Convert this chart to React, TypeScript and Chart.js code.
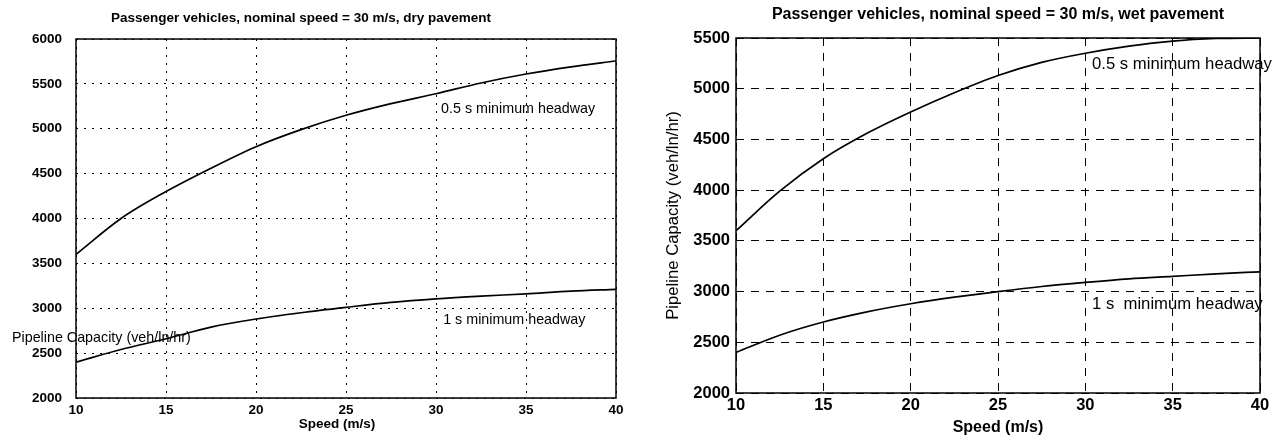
import React, { useEffect, useRef } from "react";
import { Chart, registerables } from "chart.js";

Chart.register(...registerables);

// ---------- data ----------
const speeds = [10, 12.5, 15, 17.5, 20, 22.5, 25, 27.5, 30, 32.5, 35, 37.5, 40];

const dryHalfSecond = [3600, 4000, 4300, 4560, 4800, 4990, 5150, 5280, 5390, 5510, 5610, 5690, 5755];
const dryOneSecond = [2400, 2540, 2660, 2790, 2880, 2950, 3010, 3065, 3105, 3135, 3160, 3190, 3210];

const wetHalfSecond = [3600, 3990, 4310, 4560, 4770, 4960, 5130, 5260, 5350, 5420, 5470, 5495, 5500];
const wetOneSecond = [2400, 2570, 2700, 2800, 2880, 2945, 3000, 3050, 3090, 3125, 3150, 3175, 3195];

const speedTicks = [10, 15, 20, 25, 30, 35, 40];
const dryCapacityTicks = [2000, 2500, 3000, 3500, 4000, 4500, 5000, 5500, 6000];
const wetCapacityTicks = [2000, 2500, 3000, 3500, 4000, 4500, 5000, 5500];

const dryTitle = "Passenger vehicles, nominal speed = 30 m/s, dry pavement";
const wetTitle = "Passenger vehicles, nominal speed = 30 m/s, wet pavement";
const xTitle = "Speed (m/s)";
const yTitle = "Pipeline Capacity (veh/ln/hr)";
const halfSecondLabel = "0.5 s minimum headway";
const oneSecondLabelDry = "1 s minimum headway";
const oneSecondLabelWet = "1 s  minimum headway";

// annotation anchors in data units (speed, capacity)
const dryHalfAnchor = [30.28, 5220];
const dryOneAnchor = [30.4, 2869];
const wetHalfAnchor = [30.38, 5235];
const wetOneAnchor = [30.38, 2878];

const FONT = "'Liberation Sans', Arial, Helvetica, sans-serif";

type PanelProps = {
  left: number;
  width: number;
  height: number;
  half: number[];
  one: number[];
  yMin: number;
  yMax: number;
  yTicks: number[];
  dash: number[];
  pad: { top: number; right: number };
  yAxisWidth: number;
  xAxisHeight: number;
  yTickPad: number;
  xTickPad: number;
  tickFont: number;
  drawText: (chart: any, ctx: CanvasRenderingContext2D) => void;
};

function Panel(p: PanelProps) {
  const ref = useRef<HTMLCanvasElement | null>(null);

  useEffect(() => {
    if (!ref.current) return;
    const textPlugin = {
      id: "panelText",
      afterDraw(chart: any) {
        const ctx: CanvasRenderingContext2D = chart.ctx;
        const a = chart.chartArea;
        ctx.save();
        ctx.strokeStyle = "#000";
        ctx.lineWidth = 1.5;
        ctx.setLineDash([]);
        ctx.strokeRect(a.left, a.top, a.right - a.left, a.bottom - a.top);
        ctx.fillStyle = "#000";
        p.drawText(chart, ctx);
        ctx.restore();
      },
    };
    const chart = new Chart(ref.current, {
      type: "line",
      data: {
        datasets: [
          {
            data: speeds.map((s, i) => ({ x: s, y: p.half[i] })),
            borderColor: "#000",
            borderWidth: 1.7,
            pointRadius: 0,
            cubicInterpolationMode: "monotone",
            fill: false,
          },
          {
            data: speeds.map((s, i) => ({ x: s, y: p.one[i] })),
            borderColor: "#000",
            borderWidth: 1.7,
            pointRadius: 0,
            cubicInterpolationMode: "monotone",
            fill: false,
          },
        ],
      },
      options: {
        responsive: false,
        animation: false,
        devicePixelRatio: 1,
        layout: { padding: { top: p.pad.top, right: p.pad.right, left: 0, bottom: 0 } },
        plugins: { legend: { display: false }, tooltip: { enabled: false }, title: { display: false } },
        scales: {
          x: {
            type: "linear",
            min: 10,
            max: 40,
            afterBuildTicks: (s: any) => {
              s.ticks = speedTicks.map((v) => ({ value: v }));
            },
            afterFit: (s: any) => {
              s.height = p.xAxisHeight;
            },
            ticks: {
              color: "#000",
              padding: p.xTickPad,
              font: { family: FONT, size: p.tickFont, weight: "bold" },
              callback: (v: any) => String(v),
              maxRotation: 0,
              autoSkip: false,
            },
            grid: { color: "#000", lineWidth: 1, drawTicks: false },
            border: { display: false, dash: p.dash },
          },
          y: {
            type: "linear",
            min: p.yMin,
            max: p.yMax,
            afterBuildTicks: (s: any) => {
              s.ticks = p.yTicks.map((v) => ({ value: v }));
            },
            afterFit: (s: any) => {
              s.width = p.yAxisWidth;
            },
            ticks: {
              color: "#000",
              padding: p.yTickPad,
              font: { family: FONT, size: p.tickFont, weight: "bold" },
              callback: (v: any) => String(v),
              autoSkip: false,
            },
            grid: { color: "#000", lineWidth: 1, drawTicks: false },
            border: { display: false, dash: p.dash },
          },
        },
      },
      plugins: [textPlugin],
    } as any);
    return () => chart.destroy();
  }, []);

  return (
    <canvas
      ref={ref}
      width={p.width}
      height={p.height}
      style={{ position: "absolute", left: p.left, top: 0, width: p.width, height: p.height }}
    />
  );
}

function drawDry(chart: any, ctx: CanvasRenderingContext2D) {
  const x = chart.scales.x;
  const y = chart.scales.y;
  ctx.textBaseline = "middle";
  ctx.textAlign = "left";
  ctx.font = `bold 13.5px ${FONT}`;
  ctx.fillText(dryTitle, 111, 18);
  ctx.font = `14.3px ${FONT}`;
  ctx.fillText(halfSecondLabel, x.getPixelForValue(dryHalfAnchor[0]), y.getPixelForValue(dryHalfAnchor[1]));
  ctx.fillText(oneSecondLabelDry, x.getPixelForValue(dryOneAnchor[0]), y.getPixelForValue(dryOneAnchor[1]));
  ctx.fillText(yTitle, 12, y.getPixelForValue(2669));
  ctx.textAlign = "center";
  ctx.font = `bold 13.5px ${FONT}`;
  ctx.fillText(xTitle, (chart.chartArea.left + chart.chartArea.right) / 2 - 9, 424);
}

function drawWet(chart: any, ctx: CanvasRenderingContext2D) {
  const x = chart.scales.x;
  const y = chart.scales.y;
  const a = chart.chartArea;
  ctx.textBaseline = "middle";
  ctx.textAlign = "center";
  ctx.font = `bold 16px ${FONT}`;
  ctx.fillText(wetTitle, 358, 15);
  ctx.font = `bold 16px ${FONT}`;
  ctx.fillText(xTitle, (a.left + a.right) / 2, 428);
  ctx.font = `16.7px ${FONT}`;
  ctx.save();
  ctx.translate(33, (a.top + a.bottom) / 2);
  ctx.rotate(-Math.PI / 2);
  ctx.fillText(yTitle, 0, 0);
  ctx.restore();
  ctx.textAlign = "left";
  ctx.fillText(halfSecondLabel, x.getPixelForValue(wetHalfAnchor[0]), y.getPixelForValue(wetHalfAnchor[1]));
  ctx.fillText(oneSecondLabelWet, x.getPixelForValue(wetOneAnchor[0]), y.getPixelForValue(wetOneAnchor[1]));
}

export default function App() {
  return (
    <div style={{ position: "absolute", left: 0, top: 0, width: 1287, height: 443, background: "#fff", overflow: "hidden" }}>
      <Panel
        left={0}
        width={640}
        height={443}
        half={dryHalfSecond}
        one={dryOneSecond}
        yMin={2000}
        yMax={6000}
        yTicks={dryCapacityTicks}
        dash={[2, 6]}
        pad={{ top: 39, right: 24 }}
        yAxisWidth={76}
        xAxisHeight={45}
        yTickPad={14}
        xTickPad={4}
        tickFont={13.5}
        drawText={drawDry}
      />
      <Panel
        left={640}
        width={647}
        height={443}
        half={wetHalfSecond}
        one={wetOneSecond}
        yMin={2000}
        yMax={5500}
        yTicks={wetCapacityTicks}
        dash={[8, 7]}
        pad={{ top: 38, right: 27 }}
        yAxisWidth={96}
        xAxisHeight={50}
        yTickPad={6}
        xTickPad={3}
        tickFont={16.5}
        drawText={drawWet}
      />
    </div>
  );
}
